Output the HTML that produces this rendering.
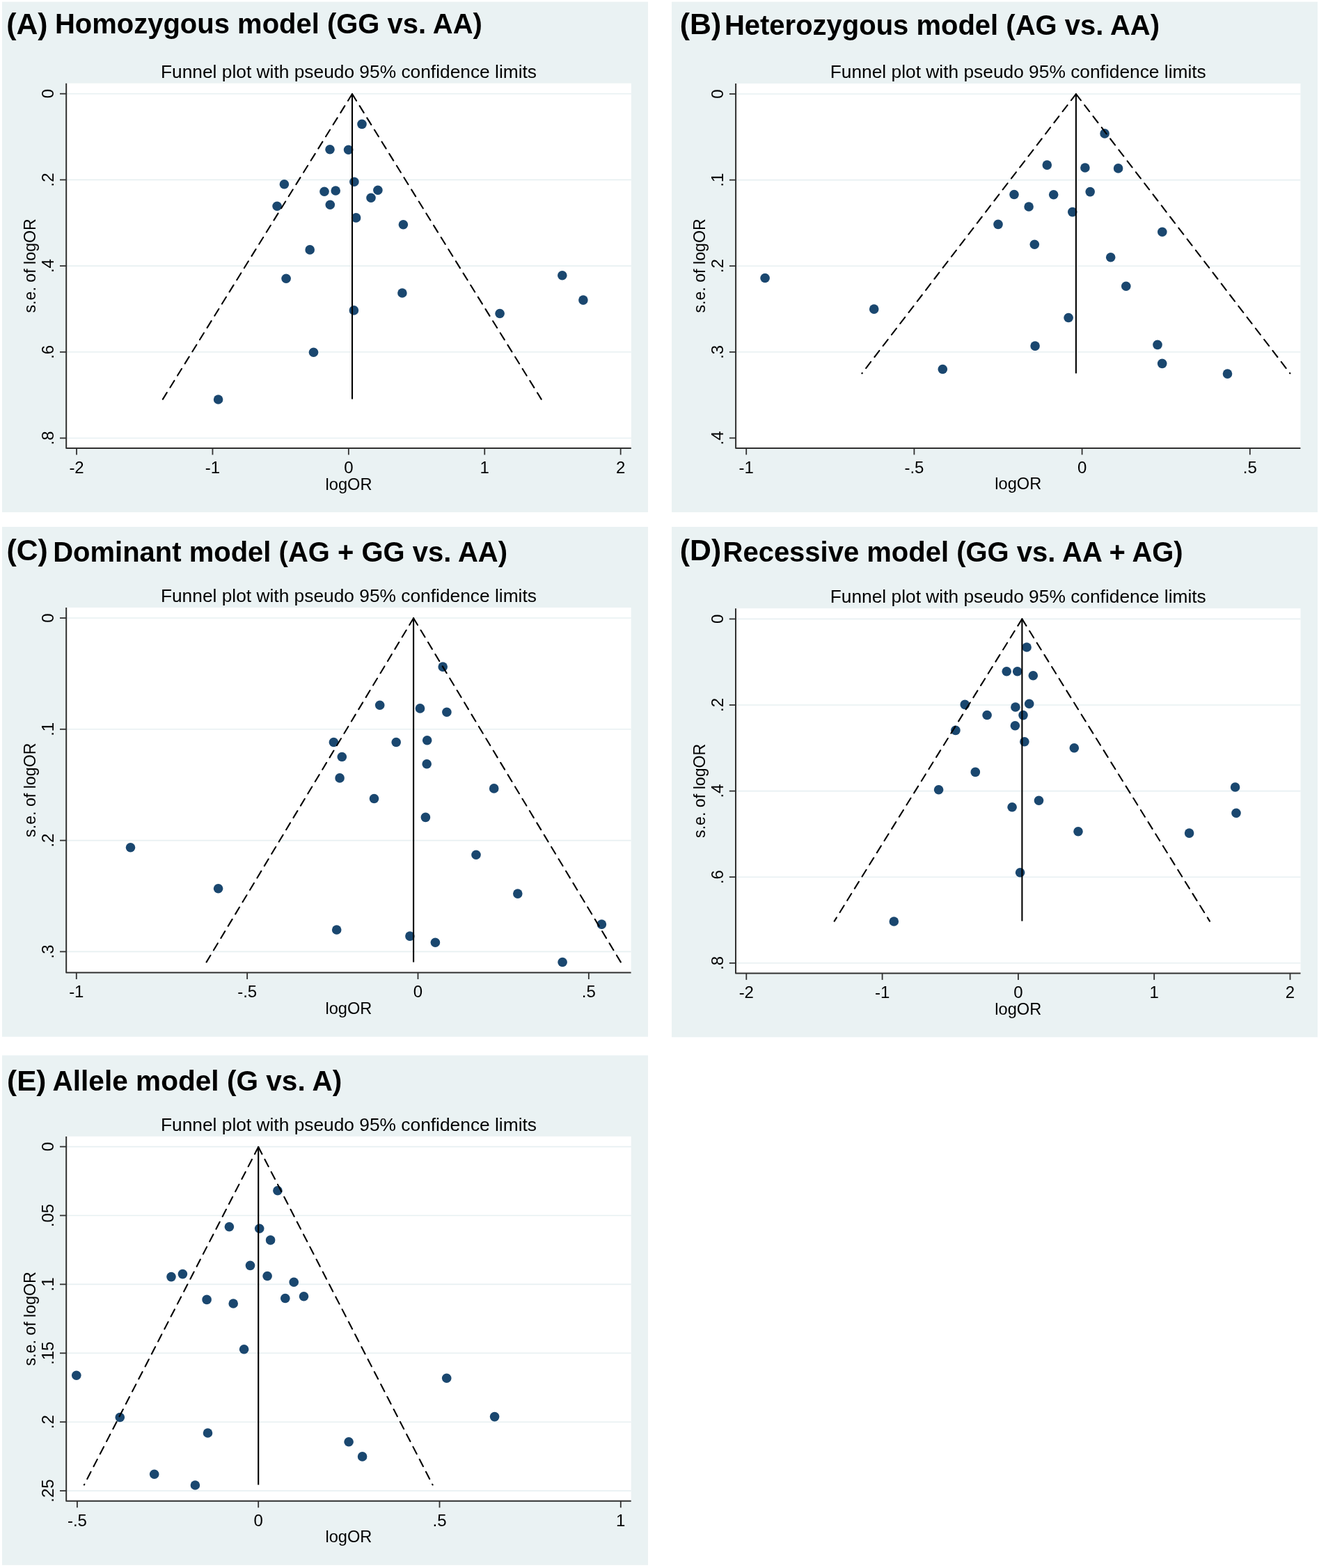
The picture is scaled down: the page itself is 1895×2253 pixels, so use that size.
<!DOCTYPE html>
<html lang="en">
<head>
<meta charset="utf-8">
<title>Funnel plots</title>
<style>
html,body{margin:0;padding:0;background:#fff;}
svg{display:block;}
text{font-family:'Liberation Sans', Arial, sans-serif;fill:#000;}
.lb{font-weight:bold;font-size:42.8px;}
.tt{font-weight:bold;font-size:40px;}
.st{font-size:26.33px;text-anchor:middle;}
.tk{font-size:24px;text-anchor:middle;}
.at{font-size:23.2px;text-anchor:middle;}
</style>
</head>
<body>
<svg width="1895" height="2253" viewBox="0 0 1895 2253">
<rect x="0" y="0" width="1895" height="2253" fill="#fff"/>
<g>
<rect x="3" y="2.6" width="928" height="733.4" fill="#eaf2f3"/>
<rect x="95.2" y="119.7" width="811.6" height="524.3" fill="#fff"/>
<line x1="96.2" y1="134.7" x2="906.8" y2="134.7" stroke="#e7f0f2" stroke-width="1.6"/>
<line x1="96.2" y1="258.4" x2="906.8" y2="258.4" stroke="#e7f0f2" stroke-width="1.6"/>
<line x1="96.2" y1="382.1" x2="906.8" y2="382.1" stroke="#e7f0f2" stroke-width="1.6"/>
<line x1="96.2" y1="505.8" x2="906.8" y2="505.8" stroke="#e7f0f2" stroke-width="1.6"/>
<line x1="96.2" y1="629.5" x2="906.8" y2="629.5" stroke="#e7f0f2" stroke-width="1.6"/>
<g fill="#1a476f"><circle cx="520" cy="178.4" r="6.8"/><circle cx="474" cy="214.8" r="6.8"/><circle cx="500.6" cy="215.2" r="6.8"/><circle cx="508.9" cy="261.3" r="6.8"/><circle cx="408.4" cy="264.8" r="6.8"/><circle cx="466" cy="275.2" r="6.8"/><circle cx="482.2" cy="274" r="6.8"/><circle cx="542.9" cy="273.2" r="6.8"/><circle cx="533" cy="284.3" r="6.8"/><circle cx="398.1" cy="296.2" r="6.8"/><circle cx="474.3" cy="294.3" r="6.8"/><circle cx="511.6" cy="312.9" r="6.8"/><circle cx="579.4" cy="322.7" r="6.8"/><circle cx="445.2" cy="358.9" r="6.8"/><circle cx="411.1" cy="400.3" r="6.8"/><circle cx="577.9" cy="421" r="6.8"/><circle cx="508.4" cy="445.9" r="6.8"/><circle cx="450.5" cy="506.2" r="6.8"/><circle cx="313.6" cy="574" r="6.8"/><circle cx="807.8" cy="395.7" r="6.8"/><circle cx="837.9" cy="431.1" r="6.8"/><circle cx="718.1" cy="450.5" r="6.8"/></g>
<path d="M506 135L233.9 573.6" stroke="#000" stroke-width="2.1" fill="none" stroke-dasharray="11.45 8.75" stroke-linecap="round"/>
<path d="M506 135L777.7 573.6" stroke="#000" stroke-width="2.1" fill="none" stroke-dasharray="11.45 8.75" stroke-linecap="round"/>
<line x1="506" y1="135" x2="506" y2="573.6" stroke="#000" stroke-width="2.1"/>
<path d="M95.2 119.7V644H906.8" stroke="#303030" stroke-width="2" stroke-linejoin="round" fill="none"/>
<line x1="86" y1="134.7" x2="95.2" y2="134.7" stroke="#303030" stroke-width="1.8"/>
<text class="tk" transform="translate(77.2 134.7) rotate(-90)">0</text>
<line x1="86" y1="258.4" x2="95.2" y2="258.4" stroke="#303030" stroke-width="1.8"/>
<text class="tk" transform="translate(77.2 258.4) rotate(-90)">.2</text>
<line x1="86" y1="382.1" x2="95.2" y2="382.1" stroke="#303030" stroke-width="1.8"/>
<text class="tk" transform="translate(77.2 382.1) rotate(-90)">.4</text>
<line x1="86" y1="505.8" x2="95.2" y2="505.8" stroke="#303030" stroke-width="1.8"/>
<text class="tk" transform="translate(77.2 505.8) rotate(-90)">.6</text>
<line x1="86" y1="629.5" x2="95.2" y2="629.5" stroke="#303030" stroke-width="1.8"/>
<text class="tk" transform="translate(77.2 629.5) rotate(-90)">.8</text>
<line x1="110.05" y1="644" x2="110.05" y2="653.5" stroke="#303030" stroke-width="1.8"/>
<text class="tk" x="110.05" y="679.7">-2</text>
<line x1="305.45" y1="644" x2="305.45" y2="653.5" stroke="#303030" stroke-width="1.8"/>
<text class="tk" x="305.45" y="679.7">-1</text>
<line x1="500.85" y1="644" x2="500.85" y2="653.5" stroke="#303030" stroke-width="1.8"/>
<text class="tk" x="500.85" y="679.7">0</text>
<line x1="696.25" y1="644" x2="696.25" y2="653.5" stroke="#303030" stroke-width="1.8"/>
<text class="tk" x="696.25" y="679.7">1</text>
<line x1="891.65" y1="644" x2="891.65" y2="653.5" stroke="#303030" stroke-width="1.8"/>
<text class="tk" x="891.65" y="679.7">2</text>
<text class="at" style="font-size:23.6px" x="501" y="703.5">logOR</text>
<text class="at" transform="translate(51.4 381.85) rotate(-90)">s.e. of logOR</text>
<text class="st" x="501" y="111.5">Funnel plot with pseudo 95% confidence limits</text>
<text class="lb" style="font-size:42.8px" transform="translate(9.17 49.4) scale(1 0.98)">(A)</text>
<text class="tt" style="font-size:40px" transform="translate(78.92 47.6) scale(1 1.02)">Homozygous model (GG vs. AA)</text>
</g>
<g>
<rect x="965" y="2.6" width="928" height="733.4" fill="#eaf2f3"/>
<rect x="1057.1" y="120" width="811.3" height="523.9" fill="#fff"/>
<line x1="1058.1" y1="135" x2="1868.4" y2="135" stroke="#e7f0f2" stroke-width="1.6"/>
<line x1="1058.1" y1="258.6" x2="1868.4" y2="258.6" stroke="#e7f0f2" stroke-width="1.6"/>
<line x1="1058.1" y1="382.2" x2="1868.4" y2="382.2" stroke="#e7f0f2" stroke-width="1.6"/>
<line x1="1058.1" y1="505.8" x2="1868.4" y2="505.8" stroke="#e7f0f2" stroke-width="1.6"/>
<g fill="#1a476f"><circle cx="1587.1" cy="191.9" r="6.8"/><circle cx="1504.3" cy="237.1" r="6.8"/><circle cx="1558.9" cy="241" r="6.8"/><circle cx="1606.6" cy="241.9" r="6.8"/><circle cx="1457" cy="279.5" r="6.8"/><circle cx="1513.7" cy="279.8" r="6.8"/><circle cx="1566.2" cy="275.6" r="6.8"/><circle cx="1478.1" cy="297" r="6.8"/><circle cx="1540.8" cy="304.6" r="6.8"/><circle cx="1434" cy="322.4" r="6.8"/><circle cx="1486.3" cy="351.3" r="6.8"/><circle cx="1595.7" cy="369.7" r="6.8"/><circle cx="1669.8" cy="333.2" r="6.8"/><circle cx="1535.1" cy="456.5" r="6.8"/><circle cx="1487.1" cy="497.1" r="6.8"/><circle cx="1354.3" cy="530.5" r="6.8"/><circle cx="1099.1" cy="399.5" r="6.8"/><circle cx="1255.7" cy="444.1" r="6.8"/><circle cx="1617.8" cy="411.3" r="6.8"/><circle cx="1663" cy="495.4" r="6.8"/><circle cx="1669.7" cy="522.4" r="6.8"/><circle cx="1763.5" cy="537.1" r="6.8"/></g>
<path d="M1545.9 135.1L1238.4 536.5" stroke="#000" stroke-width="2.1" fill="none" stroke-dasharray="11.45 8.75" stroke-linecap="round"/>
<path d="M1545.9 135.1L1853.4 536.5" stroke="#000" stroke-width="2.1" fill="none" stroke-dasharray="11.45 8.75" stroke-linecap="round"/>
<line x1="1545.9" y1="135.1" x2="1545.9" y2="536.5" stroke="#000" stroke-width="2.1"/>
<path d="M1057.1 120V643.9H1868.4" stroke="#303030" stroke-width="2" stroke-linejoin="round" fill="none"/>
<line x1="1047.9" y1="135" x2="1057.1" y2="135" stroke="#303030" stroke-width="1.8"/>
<text class="tk" transform="translate(1039.1 135) rotate(-90)">0</text>
<line x1="1047.9" y1="258.6" x2="1057.1" y2="258.6" stroke="#303030" stroke-width="1.8"/>
<text class="tk" transform="translate(1039.1 258.6) rotate(-90)">.1</text>
<line x1="1047.9" y1="382.2" x2="1057.1" y2="382.2" stroke="#303030" stroke-width="1.8"/>
<text class="tk" transform="translate(1039.1 382.2) rotate(-90)">.2</text>
<line x1="1047.9" y1="505.8" x2="1057.1" y2="505.8" stroke="#303030" stroke-width="1.8"/>
<text class="tk" transform="translate(1039.1 505.8) rotate(-90)">.3</text>
<line x1="1047.9" y1="629.4" x2="1057.1" y2="629.4" stroke="#303030" stroke-width="1.8"/>
<text class="tk" transform="translate(1039.1 629.4) rotate(-90)">.4</text>
<line x1="1072.2" y1="643.9" x2="1072.2" y2="653.4" stroke="#303030" stroke-width="1.8"/>
<text class="tk" x="1072.2" y="679.6">-1</text>
<line x1="1313.4" y1="643.9" x2="1313.4" y2="653.4" stroke="#303030" stroke-width="1.8"/>
<text class="tk" x="1313.4" y="679.6">-.5</text>
<line x1="1554.6" y1="643.9" x2="1554.6" y2="653.4" stroke="#303030" stroke-width="1.8"/>
<text class="tk" x="1554.6" y="679.6">0</text>
<line x1="1795.8" y1="643.9" x2="1795.8" y2="653.4" stroke="#303030" stroke-width="1.8"/>
<text class="tk" x="1795.8" y="679.6">.5</text>
<text class="at" style="font-size:23.6px" x="1462.75" y="703.4">logOR</text>
<text class="at" transform="translate(1013.3 381.95) rotate(-90)">s.e. of logOR</text>
<text class="st" x="1462.75" y="111.8">Funnel plot with pseudo 95% confidence limits</text>
<text class="lb" style="font-size:42.8px" transform="translate(976.77 49.2) scale(1 0.98)">(B)</text>
<text class="tt" style="font-size:40px" transform="translate(1040.92 50.2) scale(1 1.02)">Heterozygous model (AG vs. AA)</text>
</g>
<g>
<rect x="3" y="757" width="928" height="732.7" fill="#eaf2f3"/>
<rect x="95.2" y="873" width="811.4" height="524.5" fill="#fff"/>
<line x1="96.2" y1="888" x2="906.6" y2="888" stroke="#e7f0f2" stroke-width="1.6"/>
<line x1="96.2" y1="1047.8" x2="906.6" y2="1047.8" stroke="#e7f0f2" stroke-width="1.6"/>
<line x1="96.2" y1="1207.6" x2="906.6" y2="1207.6" stroke="#e7f0f2" stroke-width="1.6"/>
<line x1="96.2" y1="1367.4" x2="906.6" y2="1367.4" stroke="#e7f0f2" stroke-width="1.6"/>
<g fill="#1a476f"><circle cx="636.2" cy="958.1" r="6.8"/><circle cx="545.7" cy="1013.2" r="6.8"/><circle cx="603.5" cy="1017.9" r="6.8"/><circle cx="641.9" cy="1023.2" r="6.8"/><circle cx="479.4" cy="1066.5" r="6.8"/><circle cx="569.2" cy="1066.5" r="6.8"/><circle cx="613.7" cy="1063.7" r="6.8"/><circle cx="491.3" cy="1087.5" r="6.8"/><circle cx="613.2" cy="1097.8" r="6.8"/><circle cx="488.1" cy="1117.9" r="6.8"/><circle cx="537.5" cy="1147.5" r="6.8"/><circle cx="611.4" cy="1174.4" r="6.8"/><circle cx="684" cy="1228.3" r="6.8"/><circle cx="483.7" cy="1336" r="6.8"/><circle cx="588.9" cy="1345.1" r="6.8"/><circle cx="625.4" cy="1354.3" r="6.8"/><circle cx="187.5" cy="1217.8" r="6.8"/><circle cx="313.6" cy="1276.7" r="6.8"/><circle cx="709.7" cy="1132.9" r="6.8"/><circle cx="743.8" cy="1284.1" r="6.8"/><circle cx="864.4" cy="1328.1" r="6.8"/><circle cx="808.1" cy="1382.5" r="6.8"/></g>
<path d="M594.1 888.2L296.6 1382.4" stroke="#000" stroke-width="2.1" fill="none" stroke-dasharray="11.45 8.75" stroke-linecap="round"/>
<path d="M594.1 888.2L891.8 1382.4" stroke="#000" stroke-width="2.1" fill="none" stroke-dasharray="11.45 8.75" stroke-linecap="round"/>
<line x1="594.1" y1="888.2" x2="594.1" y2="1382.4" stroke="#000" stroke-width="2.1"/>
<path d="M95.2 873V1397.5H906.6" stroke="#303030" stroke-width="2" stroke-linejoin="round" fill="none"/>
<line x1="86" y1="888" x2="95.2" y2="888" stroke="#303030" stroke-width="1.8"/>
<text class="tk" transform="translate(77.2 888) rotate(-90)">0</text>
<line x1="86" y1="1047.8" x2="95.2" y2="1047.8" stroke="#303030" stroke-width="1.8"/>
<text class="tk" transform="translate(77.2 1047.8) rotate(-90)">.1</text>
<line x1="86" y1="1207.6" x2="95.2" y2="1207.6" stroke="#303030" stroke-width="1.8"/>
<text class="tk" transform="translate(77.2 1207.6) rotate(-90)">.2</text>
<line x1="86" y1="1367.4" x2="95.2" y2="1367.4" stroke="#303030" stroke-width="1.8"/>
<text class="tk" transform="translate(77.2 1367.4) rotate(-90)">.3</text>
<line x1="109.8" y1="1397.5" x2="109.8" y2="1407" stroke="#303030" stroke-width="1.8"/>
<text class="tk" x="109.8" y="1433.2">-1</text>
<line x1="355.15" y1="1397.5" x2="355.15" y2="1407" stroke="#303030" stroke-width="1.8"/>
<text class="tk" x="355.15" y="1433.2">-.5</text>
<line x1="600.5" y1="1397.5" x2="600.5" y2="1407" stroke="#303030" stroke-width="1.8"/>
<text class="tk" x="600.5" y="1433.2">0</text>
<line x1="845.85" y1="1397.5" x2="845.85" y2="1407" stroke="#303030" stroke-width="1.8"/>
<text class="tk" x="845.85" y="1433.2">.5</text>
<text class="at" style="font-size:23.6px" x="500.9" y="1457">logOR</text>
<text class="at" transform="translate(51.4 1135.25) rotate(-90)">s.e. of logOR</text>
<text class="st" x="500.9" y="864.8">Funnel plot with pseudo 95% confidence limits</text>
<text class="lb" style="font-size:42.8px" transform="translate(9.47 804.5) scale(1 0.98)">(C)</text>
<text class="tt" style="font-size:40px" transform="translate(76.22 806.9) scale(1 1.02)">Dominant model (AG + GG vs. AA)</text>
</g>
<g>
<rect x="965" y="757" width="928" height="733.3" fill="#eaf2f3"/>
<rect x="1057" y="874.2" width="811.5" height="524.2" fill="#fff"/>
<line x1="1058" y1="889.4" x2="1868.5" y2="889.4" stroke="#e7f0f2" stroke-width="1.6"/>
<line x1="1058" y1="1013" x2="1868.5" y2="1013" stroke="#e7f0f2" stroke-width="1.6"/>
<line x1="1058" y1="1136.6" x2="1868.5" y2="1136.6" stroke="#e7f0f2" stroke-width="1.6"/>
<line x1="1058" y1="1260.2" x2="1868.5" y2="1260.2" stroke="#e7f0f2" stroke-width="1.6"/>
<line x1="1058" y1="1383.8" x2="1868.5" y2="1383.8" stroke="#e7f0f2" stroke-width="1.6"/>
<g fill="#1a476f"><circle cx="1475.1" cy="930" r="6.8"/><circle cx="1446.2" cy="964.8" r="6.8"/><circle cx="1461.7" cy="964.8" r="6.8"/><circle cx="1484.3" cy="970.8" r="6.8"/><circle cx="1386.3" cy="1012.4" r="6.8"/><circle cx="1458.9" cy="1016" r="6.8"/><circle cx="1478.7" cy="1011.3" r="6.8"/><circle cx="1418.1" cy="1027.5" r="6.8"/><circle cx="1470" cy="1027.6" r="6.8"/><circle cx="1458.4" cy="1042.7" r="6.8"/><circle cx="1372.9" cy="1049.4" r="6.8"/><circle cx="1471.9" cy="1065.7" r="6.8"/><circle cx="1543.3" cy="1074.8" r="6.8"/><circle cx="1401.3" cy="1109.4" r="6.8"/><circle cx="1348.6" cy="1134.8" r="6.8"/><circle cx="1492.5" cy="1150.2" r="6.8"/><circle cx="1454.1" cy="1159.7" r="6.8"/><circle cx="1549" cy="1194.8" r="6.8"/><circle cx="1465.6" cy="1253.8" r="6.8"/><circle cx="1284.3" cy="1324" r="6.8"/><circle cx="1774.6" cy="1131" r="6.8"/><circle cx="1776" cy="1168.3" r="6.8"/><circle cx="1708.6" cy="1197.1" r="6.8"/></g>
<path d="M1468.4 889.4L1198.7 1323.6" stroke="#000" stroke-width="2.1" fill="none" stroke-dasharray="11.45 8.75" stroke-linecap="round"/>
<path d="M1468.4 889.4L1738 1323.6" stroke="#000" stroke-width="2.1" fill="none" stroke-dasharray="11.45 8.75" stroke-linecap="round"/>
<line x1="1468.4" y1="889.4" x2="1468.4" y2="1323.6" stroke="#000" stroke-width="2.1"/>
<path d="M1057 874.2V1398.4H1868.5" stroke="#303030" stroke-width="2" stroke-linejoin="round" fill="none"/>
<line x1="1047.8" y1="889.4" x2="1057" y2="889.4" stroke="#303030" stroke-width="1.8"/>
<text class="tk" transform="translate(1039 889.4) rotate(-90)">0</text>
<line x1="1047.8" y1="1013" x2="1057" y2="1013" stroke="#303030" stroke-width="1.8"/>
<text class="tk" transform="translate(1039 1013) rotate(-90)">.2</text>
<line x1="1047.8" y1="1136.6" x2="1057" y2="1136.6" stroke="#303030" stroke-width="1.8"/>
<text class="tk" transform="translate(1039 1136.6) rotate(-90)">.4</text>
<line x1="1047.8" y1="1260.2" x2="1057" y2="1260.2" stroke="#303030" stroke-width="1.8"/>
<text class="tk" transform="translate(1039 1260.2) rotate(-90)">.6</text>
<line x1="1047.8" y1="1383.8" x2="1057" y2="1383.8" stroke="#303030" stroke-width="1.8"/>
<text class="tk" transform="translate(1039 1383.8) rotate(-90)">.8</text>
<line x1="1072.3" y1="1398.4" x2="1072.3" y2="1407.9" stroke="#303030" stroke-width="1.8"/>
<text class="tk" x="1072.3" y="1434.1">-2</text>
<line x1="1267.6" y1="1398.4" x2="1267.6" y2="1407.9" stroke="#303030" stroke-width="1.8"/>
<text class="tk" x="1267.6" y="1434.1">-1</text>
<line x1="1462.9" y1="1398.4" x2="1462.9" y2="1407.9" stroke="#303030" stroke-width="1.8"/>
<text class="tk" x="1462.9" y="1434.1">0</text>
<line x1="1658.2" y1="1398.4" x2="1658.2" y2="1407.9" stroke="#303030" stroke-width="1.8"/>
<text class="tk" x="1658.2" y="1434.1">1</text>
<line x1="1853.5" y1="1398.4" x2="1853.5" y2="1407.9" stroke="#303030" stroke-width="1.8"/>
<text class="tk" x="1853.5" y="1434.1">2</text>
<text class="at" style="font-size:23.6px" x="1462.75" y="1457.9">logOR</text>
<text class="at" transform="translate(1013.2 1136.3) rotate(-90)">s.e. of logOR</text>
<text class="st" x="1462.75" y="866">Funnel plot with pseudo 95% confidence limits</text>
<text class="lb" style="font-size:42.8px" transform="translate(976.77 804.7) scale(1 0.98)">(D)</text>
<text class="tt" style="font-size:40px" transform="translate(1038.52 806.9) scale(1 1.02)">Recessive model (GG vs. AA + AG)</text>
</g>
<g>
<rect x="3" y="1516.4" width="928" height="732.4" fill="#eaf2f3"/>
<rect x="95.2" y="1632.9" width="811.5" height="523.9" fill="#fff"/>
<line x1="96.2" y1="1647.6" x2="906.7" y2="1647.6" stroke="#e7f0f2" stroke-width="1.6"/>
<line x1="96.2" y1="1746.5" x2="906.7" y2="1746.5" stroke="#e7f0f2" stroke-width="1.6"/>
<line x1="96.2" y1="1845.4" x2="906.7" y2="1845.4" stroke="#e7f0f2" stroke-width="1.6"/>
<line x1="96.2" y1="1944.3" x2="906.7" y2="1944.3" stroke="#e7f0f2" stroke-width="1.6"/>
<line x1="96.2" y1="2043.2" x2="906.7" y2="2043.2" stroke="#e7f0f2" stroke-width="1.6"/>
<line x1="96.2" y1="2142.1" x2="906.7" y2="2142.1" stroke="#e7f0f2" stroke-width="1.6"/>
<g fill="#1a476f"><circle cx="398.9" cy="1710.8" r="6.8"/><circle cx="329.4" cy="1762.8" r="6.8"/><circle cx="372.7" cy="1765.2" r="6.8"/><circle cx="388.6" cy="1781.9" r="6.8"/><circle cx="359.5" cy="1818.4" r="6.8"/><circle cx="246" cy="1834.6" r="6.8"/><circle cx="262.4" cy="1830.6" r="6.8"/><circle cx="384.1" cy="1833.5" r="6.8"/><circle cx="422.2" cy="1842.2" r="6.8"/><circle cx="297.1" cy="1867.4" r="6.8"/><circle cx="335.2" cy="1873" r="6.8"/><circle cx="409.8" cy="1865.5" r="6.8"/><circle cx="436.5" cy="1862.7" r="6.8"/><circle cx="350.6" cy="1938.7" r="6.8"/><circle cx="109.8" cy="1976.2" r="6.8"/><circle cx="172.3" cy="2036.5" r="6.8"/><circle cx="298.5" cy="2059" r="6.8"/><circle cx="221.7" cy="2118.3" r="6.8"/><circle cx="280.4" cy="2134" r="6.8"/><circle cx="641.7" cy="1980.2" r="6.8"/><circle cx="501.1" cy="2071.7" r="6.8"/><circle cx="520.6" cy="2092.9" r="6.8"/><circle cx="710.6" cy="2035.6" r="6.8"/></g>
<path d="M371.2 1648L120.9 2133.5" stroke="#000" stroke-width="2.1" fill="none" stroke-dasharray="11.45 8.75" stroke-linecap="round"/>
<path d="M371.2 1648L621.6 2133.5" stroke="#000" stroke-width="2.1" fill="none" stroke-dasharray="11.45 8.75" stroke-linecap="round"/>
<line x1="371.2" y1="1648" x2="371.2" y2="2133.5" stroke="#000" stroke-width="2.1"/>
<path d="M95.2 1632.9V2156.8H906.7" stroke="#303030" stroke-width="2" stroke-linejoin="round" fill="none"/>
<line x1="86" y1="1647.6" x2="95.2" y2="1647.6" stroke="#303030" stroke-width="1.8"/>
<text class="tk" transform="translate(77.2 1647.6) rotate(-90)">0</text>
<line x1="86" y1="1746.5" x2="95.2" y2="1746.5" stroke="#303030" stroke-width="1.8"/>
<text class="tk" transform="translate(77.2 1746.5) rotate(-90)">.05</text>
<line x1="86" y1="1845.4" x2="95.2" y2="1845.4" stroke="#303030" stroke-width="1.8"/>
<text class="tk" transform="translate(77.2 1845.4) rotate(-90)">.1</text>
<line x1="86" y1="1944.3" x2="95.2" y2="1944.3" stroke="#303030" stroke-width="1.8"/>
<text class="tk" transform="translate(77.2 1944.3) rotate(-90)">.15</text>
<line x1="86" y1="2043.2" x2="95.2" y2="2043.2" stroke="#303030" stroke-width="1.8"/>
<text class="tk" transform="translate(77.2 2043.2) rotate(-90)">.2</text>
<line x1="86" y1="2142.1" x2="95.2" y2="2142.1" stroke="#303030" stroke-width="1.8"/>
<text class="tk" transform="translate(77.2 2142.1) rotate(-90)">.25</text>
<line x1="110.9" y1="2156.8" x2="110.9" y2="2166.3" stroke="#303030" stroke-width="1.8"/>
<text class="tk" x="110.9" y="2192.5">-.5</text>
<line x1="371.2" y1="2156.8" x2="371.2" y2="2166.3" stroke="#303030" stroke-width="1.8"/>
<text class="tk" x="371.2" y="2192.5">0</text>
<line x1="631.5" y1="2156.8" x2="631.5" y2="2166.3" stroke="#303030" stroke-width="1.8"/>
<text class="tk" x="631.5" y="2192.5">.5</text>
<line x1="891.8" y1="2156.8" x2="891.8" y2="2166.3" stroke="#303030" stroke-width="1.8"/>
<text class="tk" x="891.8" y="2192.5">1</text>
<text class="at" style="font-size:23.6px" x="500.95" y="2216.3">logOR</text>
<text class="at" transform="translate(51.4 1894.85) rotate(-90)">s.e. of logOR</text>
<text class="st" x="500.95" y="1624.7">Funnel plot with pseudo 95% confidence limits</text>
<text class="lb" style="font-size:42.3px" transform="translate(10.09 1567.2) scale(1 0.98)">(E)</text>
<text class="tt" style="font-size:40.6px" transform="translate(75.49 1566.7) scale(1 1.02)">Allele model (G vs. A)</text>
</g>
</svg>
</body>
</html>
